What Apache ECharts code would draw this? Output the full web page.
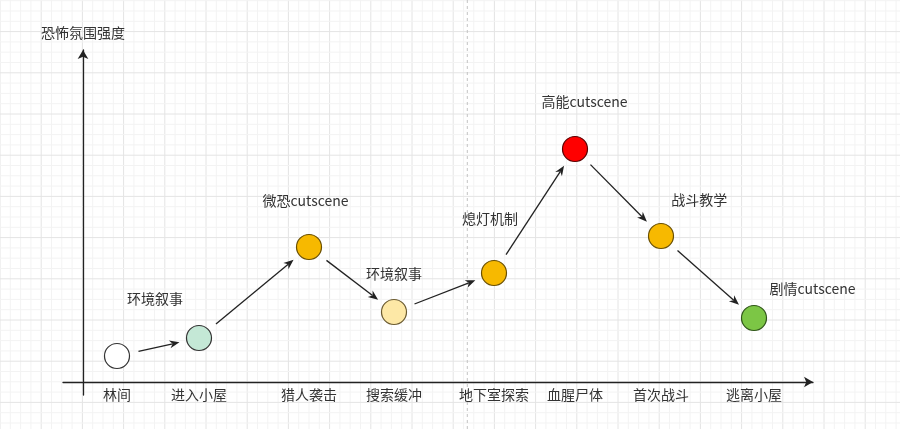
<!DOCTYPE html>
<html><head><meta charset="utf-8">
<script src="https://cdn.jsdelivr.net/npm/echarts@6/dist/echarts.min.js"></script>
<style>html,body{margin:0;padding:0;background:#fff}#c{width:900px;height:429px}</style>
</head><body><div id="c"></div>
<script>
// ---- data ----
const categories = ['林间','进入小屋','猎人袭击','搜索缓冲','地下室探索','血腥尸体','首次战斗','逃离小屋'];
const stagePos = [3.4, 11.6, 22.6, 31.1, 41.1, 49.2, 57.8, 67.1];
const intensity = [2.6, 4.4, 13.5, 7.0, 10.9, 23.3, 14.6, 6.4];
const notes = ['', '环境叙事', '微恐cutscene', '环境叙事', '熄灯机制', '高能cutscene', '战斗教学', '剧情cutscene'];
const yAxisName = '恐怖氛围强度';

// ---- styles ----
const FONT = '"Noto Sans CJK SC","Microsoft YaHei",sans-serif';
const fills = ['#ffffff','#c4e8d6','#f7b900','#fde8a6','#f7b900','#ff0000','#f7b900','#7cc645'];
const strokes = ['#333333','#333333','#6a4f00','#6a5a30','#6a4f00','#5a0000','#6a4f00','#2f5518'];
const noteOffsets = [[0,0],[-44,-39],[-3.5,-46.7],[0,-38],[-4,-54.7],[9.5,-47.3],[38.3,-36],[58.5,-29.7]];
const GAP_START = 22, GAP_END = 20;

// background grid (decoration)
const bg = [];
const step = 41.2 / 4;
for (let k = 0; k * step <= 900; k++) {
  const x = k * step;
  bg.push({type:'line', shape:{x1:x,y1:0,x2:x,y2:429}, style:{stroke: k%4===0 ? '#e4e4e4' : '#f3f3f3', lineWidth:1}, silent:true});
}
for (let k = -4; 31.6 + k * step <= 429; k++) {
  const y = 31.6 + k * step;
  if (y < 0) continue;
  bg.push({type:'line', shape:{x1:0,y1:y,x2:900,y2:y}, style:{stroke: ((k%4)+4)%4===0 ? '#e4e4e4' : '#f3f3f3', lineWidth:1}, silent:true});
}
bg.push({type:'line', shape:{x1:467.3,y1:0,x2:467.3,y2:429}, style:{stroke:'#c4c4c4', lineWidth:1, lineDash:[3,3]}, silent:true});

const chart = echarts.init(document.getElementById('c'));
chart.setOption({
  backgroundColor:'#ffffff',
  animation:false,
  graphic:{elements:[{type:'group', z:-10, children:bg}]},
  grid:{left:63, right:87, top:50, bottom:34, outerBoundsMode:'none', containLabel:false},
  xAxis:{
    type:'value', min:-2, max:73,
    axisLine:{onZero:true, symbol:['none','arrow'], symbolSize:[8,9], lineStyle:{color:'#222', width:1.3}},
    axisTick:{show:false},
    splitLine:{show:false},
    axisLabel:{
      customValues: stagePos, margin:-7, color:'#333', fontSize:14, fontFamily:FONT,
      formatter: v => { let bi=0; stagePos.forEach((p,i)=>{ if (Math.abs(p-v) < Math.abs(stagePos[bi]-v)) bi=i; }); return categories[bi]; }
    }
  },
  yAxis:{
    type:'value', min:-1.3, max:33.2,
    name: yAxisName, nameLocation:'end', nameGap:10,
    nameTextStyle:{color:'#333', fontSize:14, fontFamily:FONT},
    axisLine:{onZero:true, symbol:['none','arrow'], symbolSize:[8,9], lineStyle:{color:'#222', width:1.3}},
    axisTick:{show:false}, axisLabel:{show:false}, splitLine:{show:false}
  },
  series:[
    {
      type:'custom', coordinateSystem:'cartesian2d', silent:true, z:3,
      data: stagePos.slice(0,-1).map((x,i)=>[x, intensity[i], stagePos[i+1], intensity[i+1]]),
      encode:{x:[0,2], y:[1,3]},
      renderItem(params, api){
        const a = api.coord([api.value(0), api.value(1)]);
        const b = api.coord([api.value(2), api.value(3)]);
        const dx=b[0]-a[0], dy=b[1]-a[1], L=Math.hypot(dx,dy), ux=dx/L, uy=dy/L;
        const s=[a[0]+ux*GAP_START, a[1]+uy*GAP_START], e=[b[0]-ux*GAP_END, b[1]-uy*GAP_END];
        const hl=10, hw=4, px=-uy, py=ux;
        const base=[e[0]-ux*hl, e[1]-uy*hl];
        return {type:'group', children:[
          {type:'line', shape:{x1:s[0],y1:s[1],x2:base[0]+ux*3,y2:base[1]+uy*3}, style:{stroke:'#222', lineWidth:1.3}},
          {type:'polygon', shape:{points:[e,[base[0]+px*hw, base[1]+py*hw],[base[0]+ux*3, base[1]+uy*3],[base[0]-px*hw, base[1]-py*hw]]}, style:{fill:'#222'}}
        ]};
      }
    },
    {
      type:'scatter', z:5, silent:true, symbolSize:25,
      data: stagePos.map((x,i)=>({value:[x, intensity[i]], itemStyle:{color:fills[i], borderColor:strokes[i]}, label:{offset:noteOffsets[i]}})),
      itemStyle:{borderWidth:1.2, opacity:1},
      label:{show:true, position:'inside', formatter:p=>notes[p.dataIndex], color:'#333', fontSize:14, fontFamily:FONT, textBorderWidth:0},
      emphasis:{disabled:true}
    }
  ]
});
</script>
</body></html>
